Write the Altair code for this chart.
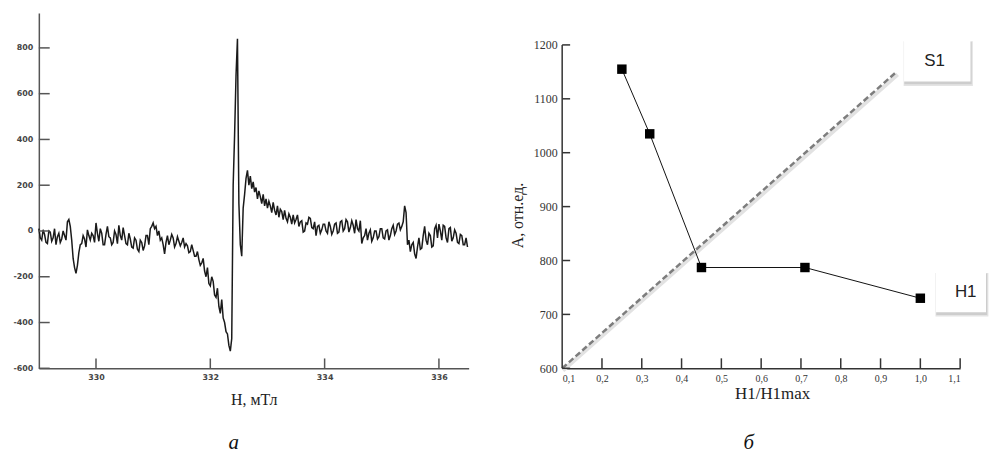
import altair as alt
import pandas as pd

# ---------------- panel "а": EPR spectrum ----------------
field_start = 329.0
field_step = 0.025
signal = [
    10, -30, -40, 5, -15, -50, -55, 0, -5, -45,
    -30, 10, -60, -25, -10, -50, -35, 0, -20, -40,
    40, 50, 20, -40, -120, -160, -185, -150, -95, -60,
    -55, -20, -35, -70, 5, -20, -40, -10, -20, -50,
    35, -10, -45, 10, -10, -60, -60, -15, 20, -25,
    -30, -60, -50, 0, -15, -55, 25, -20, -40, 15,
    -20, -55, -60, -10, -35, -70, -75, -30, -40, -80,
    -90, -40, -50, -85, -65, -20, -20, -60, 10, 20,
    35, 10, 20, -20, 0, -40, -30, -60, -100, -50,
    -20, -60, -40, -15, -30, -70, -55, -25, -45, -65,
    -50, -30, -70, -55, -65, -95, -90, -60, -85, -110,
    -110, -90, -125, -150, -140, -120, -175, -200, -160, -230,
    -240, -200, -220, -280, -290, -250, -330, -360, -300, -380,
    -400, -440, -450, -500, -525, -470, 200, 420, 680, 840,
    120, -60, -110, 100, 160, 230, 265, 200, 240, 185,
    215, 170, 190, 140, 175, 150, 120, 160, 110, 140,
    100, 130, 110, 80, 125, 90, 70, 110, 60, 95,
    85, 50, 90, 55, 40, 75, 60, 30, 70, 35,
    50, 70, 20, 40, 45, -5, 0, 35, 30, 60,
    55, 15, 10, 40, -20, 20, 25, -10, 5, 30,
    30, 0, -10, 40, 20, -15, 0, 30, 35, -10,
    -5, 40, 45, 0, 10, 50, 40, -5, 15, 45,
    25, -10, 50, 10, 0, 45, -55, -30, -20, 10,
    -40, -10, 5, -45, -30, 0, 0, -35, -25, 10,
    10, -30, -35, 0, 5, -40, -20, 10, 25, -15,
    0, 30, 35, 5, 20, 40, 110, 80, -60, -40,
    -90, -60, -50, -100, -120, -70, -30, -80, -75, -20,
    20, -40, -60, -10, -20, -70, -65, 10, 25, -30,
    30, 0, -40, 25, 20, -30, -50, 10, 15, -45,
    -30, 5, -10, -50, -55, -15, -20, -60, -60, -30,
    -70,
]
field = [round(field_start + i * field_step, 3) for i in range(len(signal))]
field_ticks = [330, 332, 334, 336]
signal_ticks = [-600, -400, -200, 0, 200, 400, 600, 800]

# ---------------- panel "б" ----------------
h_ratio = [0.25, 0.32, 0.45, 0.71, 1.0]
amplitude = [1155, 1035, 787, 787, 730]
s1_x = [0.1, 0.94]
s1_y = [600, 1150]
ratio_ticks = [0.1, 0.2, 0.3, 0.4, 0.5, 0.6, 0.7, 0.8, 0.9, 1.0, 1.1]
amp_ticks = [600, 700, 800, 900, 1000, 1100, 1200]

# ================= left chart =================
xl = alt.Scale(domain=[329.0, 336.52], nice=False, zero=False)
yl = alt.Scale(domain=[-600, 952], nice=False, zero=False)

left_df = pd.DataFrame({"H": field, "I": signal})

left_line = alt.Chart(left_df).mark_line(color="#1a1a1a", strokeWidth=1.5).encode(
    x=alt.X("H:Q", scale=xl, axis=alt.Axis(
        values=field_ticks, tickCount=10, ticks=False, tickSize=0, grid=False,
        domainColor="#555", domainWidth=1.5,
        labelFont="DejaVu Sans", labelFontSize=8, labelFontWeight="bold",
        labelColor="#444", labelPadding=5, labelExpr="format(datum.value, 'd')",
        title="H, мТл", titleFont="Liberation Serif", titleFontSize=16,
        titleFontWeight="normal", titleColor="#222", titlePadding=10)),
    y=alt.Y("I:Q", scale=yl, axis=alt.Axis(
        values=signal_ticks, tickCount=10, ticks=False, tickSize=0, grid=False,
        domainColor="#555", domainWidth=1.5,
        labelFont="DejaVu Sans", labelFontSize=8, labelFontWeight="bold",
        labelColor="#444", labelPadding=6,
        labelExpr="datum.value < 0 ? '-' + abs(datum.value) : '' + datum.value",
        title=None)),
)

lt_x = pd.DataFrame({"H": field_ticks, "H2": field_ticks,
                     "I": [-600] * 4, "I2": [-557] * 4})
lt_y = pd.DataFrame({"H": [329.0] * len(signal_ticks), "H2": [329.19] * len(signal_ticks),
                     "I": signal_ticks, "I2": signal_ticks})
left_ticks = alt.Chart(pd.concat([lt_x, lt_y])).mark_rule(color="#555", strokeWidth=1.5).encode(
    x=alt.X("H:Q", scale=xl), x2="H2", y=alt.Y("I:Q", scale=yl), y2="I2")

cap_a = alt.Chart(pd.DataFrame({"H": [332.41], "I": [-952], "t": ["а"]})).mark_text(
    font="Liberation Serif", fontSize=21, fontStyle="italic", baseline="alphabetic",
    color="#111").encode(x=alt.X("H:Q", scale=xl), y=alt.Y("I:Q", scale=yl), text="t:N")

left = alt.layer(left_line, left_ticks, cap_a).properties(width=432, height=357)

# ================= right chart =================
xr = alt.Scale(domain=[0.1, 1.1], nice=False, zero=False)
yr = alt.Scale(domain=[600, 1259], nice=False, zero=False)

pts_df = pd.DataFrame({"R": h_ratio, "A": amplitude})
s1_df = pd.DataFrame({"R": s1_x, "A": s1_y})

x_right = alt.X("R:Q", scale=xr, axis=alt.Axis(
    values=ratio_ticks, tickCount=12, ticks=False, tickSize=0, grid=False, labelOverlap=False,
    domainColor="#333", domainWidth=1.5,
    labelFont="Liberation Serif", labelFontSize=10, labelColor="#333",
    labelPadding=5, labelExpr="replace(format(datum.value, '.1f'), '.', ',')",
    title="H1/H1max", titleFont="Liberation Serif", titleFontSize=17,
    titleFontWeight="normal", titleColor="#222", titlePadding=2, titleX=211))
y_right = alt.Y("A:Q", scale=yr, axis=alt.Axis(
    values=amp_ticks, tickCount=10, ticks=False, tickSize=0, grid=False, domain=False,
    labelOverlap=False,
    labelFont="Liberation Serif", labelFontSize=12, labelColor="#333",
    labelPadding=5, labelExpr="format(datum.value, 'd')",
    title="A, отн.ед.", titleFont="Liberation Serif", titleFontSize=16,
    titleFontWeight="normal", titleColor="#222", titlePadding=8, titleY=203))

s1_shadow = alt.Chart(pd.DataFrame({"R": [0.102, 0.943], "A": [596, 1145]})).mark_line(
    color="#e2e2e2", strokeWidth=4).encode(x=x_right, y=y_right)
s1_line = alt.Chart(s1_df).mark_line(color="#7d7d7d", strokeWidth=2.5, strokeDash=[6, 3]).encode(
    x=alt.X("R:Q", scale=xr), y=alt.Y("A:Q", scale=yr))

r_line = alt.Chart(pts_df).mark_line(color="#111", strokeWidth=1).encode(
    x=alt.X("R:Q", scale=xr), y=alt.Y("A:Q", scale=yr))
r_pts = alt.Chart(pts_df).mark_square(size=90, color="#000", opacity=1).encode(
    x=alt.X("R:Q", scale=xr), y=alt.Y("A:Q", scale=yr))

rt_x = pd.DataFrame({"R": ratio_ticks[1:], "R2": ratio_ticks[1:],
                     "A": [600] * 10, "A2": [618.5] * 10})
rt_y = pd.DataFrame({"R": [0.1] * 7, "R2": [0.12] * 7, "A": amp_ticks, "A2": amp_ticks})
rt_d = pd.DataFrame({"R": [0.1], "R2": [0.1], "A": [600], "A2": [1200]})
r_ticks = alt.Chart(pd.concat([rt_x, rt_y, rt_d])).mark_rule(color="#333", strokeWidth=1.5).encode(
    x=alt.X("R:Q", scale=xr), x2="R2", y=alt.Y("A:Q", scale=yr), y2="A2")

box_df = pd.DataFrame({"R": [0.959, 1.039], "R2": [1.126, 1.165],
                       "A": [1132, 704], "A2": [1208, 778]})
shadow_outer = pd.DataFrame({"R": [0.958, 1.038], "R2": [1.132, 1.171],
                             "A": [1124, 696], "A2": [1207, 777]})
shadow_inner = pd.DataFrame({"R": [0.960, 1.040], "R2": [1.129, 1.168],
                             "A": [1127, 699], "A2": [1206, 776]})
box_shadow1 = alt.Chart(shadow_outer).mark_rect(color="#e4e4e4").encode(
    x=alt.X("R:Q", scale=xr), x2="R2", y=alt.Y("A:Q", scale=yr), y2="A2")
box_shadow2 = alt.Chart(shadow_inner).mark_rect(color="#cdcdcd").encode(
    x=alt.X("R:Q", scale=xr), x2="R2", y=alt.Y("A:Q", scale=yr), y2="A2")
boxes = alt.Chart(box_df).mark_rect(color="#ffffff").encode(
    x=alt.X("R:Q", scale=xr), x2="R2", y=alt.Y("A:Q", scale=yr), y2="A2")
lab_df = pd.DataFrame({"R": [1.036, 1.114], "A": [1171, 741], "t": ["S1", "H1"]})
labels = alt.Chart(lab_df).mark_text(font="Liberation Sans", fontSize=17, color="#222",
                                     baseline="middle").encode(
    x=alt.X("R:Q", scale=xr), y=alt.Y("A:Q", scale=yr), text="t:N")

cap_b = alt.Chart(pd.DataFrame({"R": [0.569], "A": [450], "t": ["б"]})).mark_text(
    font="Liberation Serif", fontSize=21, fontStyle="italic", baseline="alphabetic",
    color="#111").encode(x=alt.X("R:Q", scale=xr), y=alt.Y("A:Q", scale=yr), text="t:N")

right = alt.layer(s1_shadow, s1_line, r_line, r_pts, r_ticks, box_shadow1, box_shadow2,
                  boxes, labels, cap_b).properties(width=400, height=357)

chart = alt.hconcat(left, right, spacing=39).properties(
    padding={"left": 4, "top": 4, "right": 0, "bottom": 0},
    background="#ffffff",
).configure_view(stroke=None).configure_axis(grid=False, labelOverlap=False)

chart.save("out.html", embed_options={"renderer": "svg", "actions": False})
